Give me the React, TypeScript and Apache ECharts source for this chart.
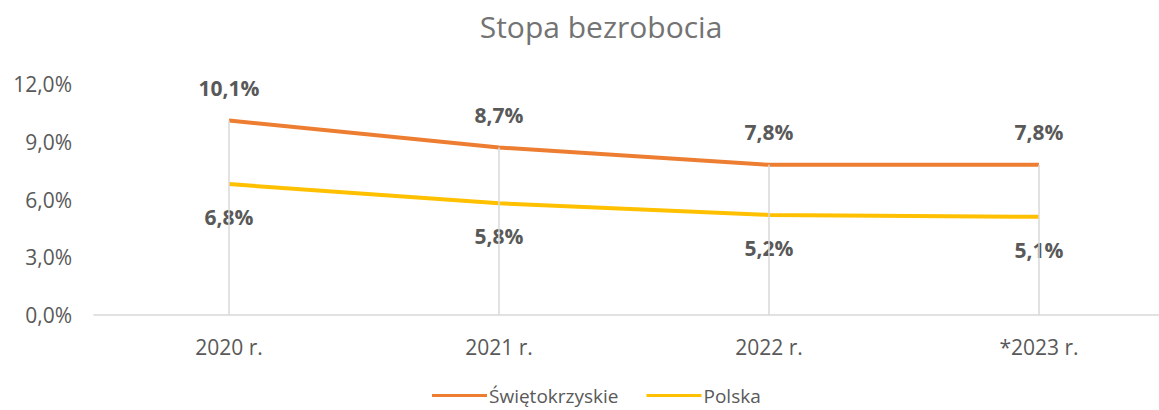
import React, { useEffect, useRef } from "react";
import * as echarts from "echarts";

const categories = ["2020 r.", "2021 r.", "2022 r.", "*2023 r."];
const swietokrzyskie = [10.1, 8.7, 7.8, 7.8];
const polska = [6.8, 5.8, 5.2, 5.1];
const seriesNames = ["Świętokrzyskie", "Polska"];
const seriesColors = ["#ED7D31", "#FFC000"];
const titleText = "Stopa bezrobocia";

const FONT = "Open Sans";
const fmt = (v: number) => v.toFixed(1).replace(".", ",") + "%";

export default function App() {
  const ref = useRef<HTMLDivElement>(null);
  useEffect(() => {
    if (!ref.current) return;
    const chart = echarts.init(ref.current, null, { renderer: "svg" });
    const labelStyle = {
      show: true,
      distance: 22,
      fontFamily: FONT,
      fontSize: 21,
      fontWeight: "bold",
      color: "#595959",
      formatter: (p: any) => fmt(p.value),
    };
    chart.setOption({
      animation: false,
      backgroundColor: "#ffffff",
      title: {
        text: titleText,
        left: 596,
        top: 6,
        textAlign: "center",
        textStyle: { fontFamily: FONT, fontSize: 30, fontWeight: "normal", color: "#737373" },
      },
      legend: {
        top: 381,
        left: 427,
        itemWidth: 55,
        itemHeight: 14,
        itemGap: 28,
        icon: "path://M0,5.5 L55,5.5 L55,8.5 L0,8.5 Z",
        textStyle: { fontFamily: FONT, fontSize: 19, color: "#595959", padding: [0, 0, 0, -3] },
        data: seriesNames.map((n, i) => ({
          name: n,
          itemStyle: { color: seriesColors[i], opacity: 1 },
        })),
      },
      grid: { left: 94, top: 84, width: 1080, height: 231, outerBoundsMode: "none", containLabel: false },
      xAxis: {
        type: "category",
        data: categories,
        boundaryGap: true,
        axisLine: { lineStyle: { color: "#d9d9d9", width: 1.5 } },
        axisTick: { show: false },
        axisLabel: { fontFamily: FONT, fontSize: 21, color: "#595959", margin: 21 },
      },
      yAxis: {
        type: "value",
        min: 0,
        max: 12,
        interval: 3,
        axisLine: { show: false },
        axisTick: { show: false },
        splitLine: { show: false },
        axisLabel: { fontFamily: FONT, fontSize: 21, color: "#595959", margin: 22, formatter: (v: number) => fmt(v) },
      },
      series: [
        {
          name: seriesNames[0],
          type: "line",
          data: swietokrzyskie,
          symbol: "circle",
          symbolSize: 1,
          showSymbol: true,
          itemStyle: { color: "rgba(0,0,0,0)" },
          lineStyle: { width: 4, color: seriesColors[0] },
          label: { ...labelStyle, position: "top" },
          markLine: {
            silent: true,
            symbol: "none",
            label: { show: false },
            lineStyle: { color: "#d9d9d9", width: 1.5, type: "solid" },
            data: categories.map((c, i) => [
              { coord: [c, swietokrzyskie[i]] },
              { coord: [c, 0] },
            ]),
          },
          z: 3,
        },
        {
          name: seriesNames[1],
          type: "line",
          data: polska,
          symbol: "circle",
          symbolSize: 1,
          showSymbol: true,
          itemStyle: { color: "rgba(0,0,0,0)" },
          lineStyle: { width: 4, color: seriesColors[1] },
          label: { ...labelStyle, position: "bottom" },
          z: 3,
        },
      ],
    });
    return () => chart.dispose();
  }, []);
  return (
    <div
      ref={ref}
      style={{ position: "absolute", left: 0, top: 0, width: 1159, height: 410 }}
    />
  );
}
